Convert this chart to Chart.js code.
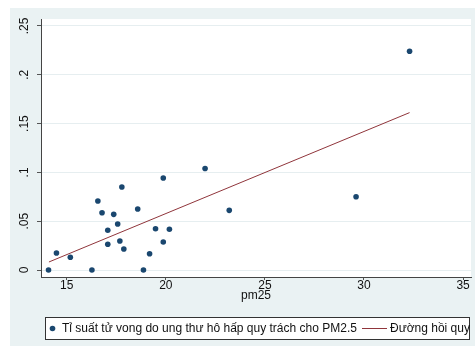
<!DOCTYPE html>
<html>
<head>
<meta charset="utf-8">
<script src="https://cdn.jsdelivr.net/npm/chart.js@4/dist/chart.umd.min.js"></script>
<style>
  body { margin: 0; background: #fff; }
  canvas { display: block; }
</style>
</head>
<body>
<canvas id="chart" width="475" height="348"></canvas>
<script>
// du lieu doc tu hinh
const pm25 = [14.08, 14.48, 15.18, 16.27, 16.57, 16.78, 17.07, 17.07, 17.37, 17.57, 17.68, 17.78,
              17.88, 18.58, 18.87, 19.18, 19.48, 19.87, 19.87, 20.18, 21.98, 23.2, 29.6, 32.3];
const tiSuat = [0, 0.0174, 0.013, 0, 0.0707, 0.0587, 0.0407, 0.0263, 0.057, 0.0471, 0.0297, 0.085,
                0.0215, 0.0625, 0, 0.0167, 0.0423, 0.0943, 0.0287, 0.0417, 0.104, 0.0611, 0.0751, 0.224];
const fitX = [14.1, 32.3];
const fitY = [0.0082, 0.1612];

const xTicks = [15, 20, 25, 30, 35];
const yTicks = [0, 0.05, 0.1, 0.15, 0.2, 0.25];
const yTickLabels = ['0', '.05', '.1', '.15', '.2', '.25'];

const xTitle = 'pm25';
const labelScatter = 'Tỉ suất tử vong do ung thư hô hấp quy trách cho PM2.5';
const labelFit = 'Đường hồi quy';

const navy = '#1a476f';
const maroon = '#90353b';
const bg = '#eaf2f3';
const FONT = '"Liberation Sans", Arial, sans-serif';

const stataLook = {
    id: 'stataLook',
    beforeDraw(chart) {
        const ctx = chart.ctx;
        const a = chart.chartArea;
        ctx.save();
        ctx.fillStyle = bg;
        ctx.fillRect(10, 8, 465, 338);
        ctx.fillStyle = '#fff';
        ctx.fillRect(a.left, a.top, a.right - a.left, a.bottom - a.top);
        ctx.restore();
    },
    afterDraw(chart) {
        // chu giai
        const ctx = chart.ctx;
        ctx.save();
        ctx.fillStyle = '#fff';
        ctx.fillRect(45.5, 317.5, 424, 22);
        ctx.strokeStyle = '#333';
        ctx.lineWidth = 1;
        ctx.strokeRect(45.5, 317.5, 424, 22);

        ctx.fillStyle = navy;
        ctx.beginPath();
        ctx.arc(52.5, 328.5, 2.8, 0, Math.PI * 2);
        ctx.fill();

        ctx.strokeStyle = maroon;
        ctx.beginPath();
        ctx.moveTo(362, 328.5);
        ctx.lineTo(387, 328.5);
        ctx.stroke();

        ctx.fillStyle = '#111';
        ctx.font = '12px ' + FONT;
        ctx.textBaseline = 'middle';
        ctx.textAlign = 'left';
        ctx.fillText(labelScatter, 62, 329);
        ctx.fillText(labelFit, 390, 329);
        ctx.restore();
    }
};

new Chart(document.getElementById('chart'), {
    type: 'scatter',
    data: {
        datasets: [
            {
                type: 'line',
                label: labelFit,
                data: fitX.map((x, i) => ({ x: x, y: fitY[i] })),
                borderColor: maroon,
                borderWidth: 1,
                pointRadius: 0,
                fill: false,
                tension: 0
            },
            {
                label: labelScatter,
                data: pm25.map((x, i) => ({ x: x, y: tiSuat[i] })),
                backgroundColor: navy,
                borderColor: navy,
                borderWidth: 0,
                pointRadius: 2.8
            }
        ]
    },
    options: {
        responsive: false,
        animation: false,
        events: [],
        layout: { padding: { top: 19, left: 0, right: 0, bottom: 45 } },
        plugins: {
            legend: { display: false },
            tooltip: { enabled: false }
        },
        scales: {
            x: {
                type: 'linear',
                min: 13.7,
                max: 35.4,
                afterBuildTicks: s => { s.ticks = xTicks.map(v => ({ value: v })); },
                afterFit: s => { s.height = 26; },
                grid: { drawOnChartArea: false, tickLength: 3, tickColor: '#555' },
                border: { color: '#444', width: 1 },
                ticks: { color: '#111', padding: -2, font: { family: FONT, size: 12 }, maxRotation: 0 },
                title: {
                    display: true, text: xTitle, color: '#111', padding: 0,
                    font: { family: FONT, size: 12 }
                }
            },
            y: {
                type: 'linear',
                min: -0.00717,
                max: 0.2571,
                afterBuildTicks: s => { s.ticks = yTicks.map(v => ({ value: v })); },
                afterFit: s => { s.width = 41; },
                grid: { color: '#e6eef0', tickLength: 4, tickColor: '#555' },
                border: { color: '#444', width: 1 },
                ticks: {
                    color: '#111',
                    padding: 4,
                    crossAlign: 'center',
                    minRotation: 90,
                    maxRotation: 90,
                    font: { family: FONT, size: 12 },
                    callback: (v, i) => yTickLabels[i]
                }
            }
        }
    },
    plugins: [stataLook]
});
</script>
</body>
</html>
